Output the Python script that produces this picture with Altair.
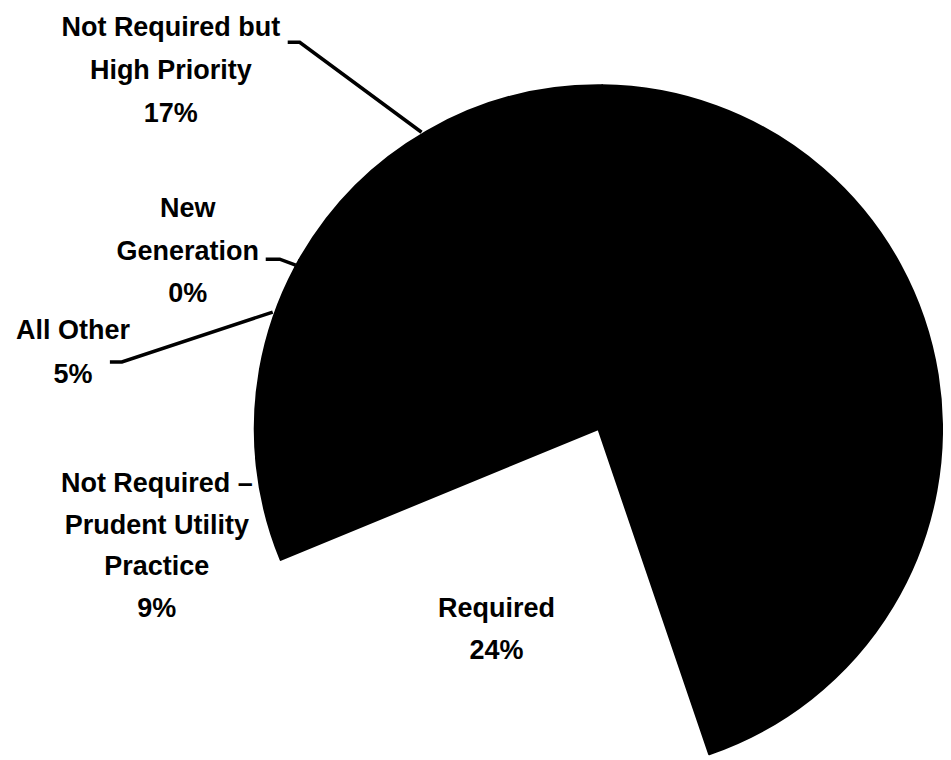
import math
import altair as alt
import pandas as pd

# ---- data ----
categories = [
    "Required",
    "Not Required – Prudent Utility Practice",
    "All Other",
    "New Generation",
    "Not Required but High Priority",
    "Unlabeled remainder",
]
shares = [24, 9, 5, 0.4, 17, 44.6]
fills = ["#ffffff", "#000000", "#000000", "#000000", "#000000", "#000000"]
strokes = ["transparent", "#000000", "#000000", "#000000", "#000000", "#000000"]

# label text lines (one block per labelled slice)
label_lines = [
    ["Required", "24%"],
    ["Not Required –", "Prudent Utility", "Practice", "9%"],
    ["All Other", "5%"],
    ["New", "Generation", "0%"],
    ["Not Required but", "High Priority", "17%"],
]

# ---- layout (annotation placement, pixels in chart space) ----
W, H = 935, 744
CX, CY, R = 591, 421, 344
START_DEG = 161.2
label_x = [489, 149, 65, 180, 163]
label_y0 = [609, 484, 331, 209, 28]
line_step = [42, 41.7, 44, 42.5, 43]

leaders = {
    "All Other": [(102, 354), (114, 354), (265, 304)],
    "New Generation": [(258, 251), (272, 251), (288, 257)],
    "Not Required but High Priority": [(280, 34), (292, 34), (414, 124)],
}

FONT = "Liberation Sans"
FSIZE = 27

pie_df = pd.DataFrame({
    "category": categories,
    "share": shares,
    "idx": list(range(len(categories))),
})

rows = []
for k, lines in enumerate(label_lines):
    for j, t in enumerate(lines):
        rows.append({"text": t, "x": label_x[k], "y": label_y0[k] + j * line_step[k]})
text_df = pd.DataFrame(rows)

lrows = []
for name, pts in leaders.items():
    for i, (px, py) in enumerate(pts):
        lrows.append({"line": name, "pt": i, "x": px, "y": py})
line_df = pd.DataFrame(lrows)

s = math.radians(START_DEG)
pie = alt.Chart(pie_df).mark_arc(outerRadius=R, innerRadius=0, strokeWidth=2, strokeJoin="round").encode(
    theta=alt.Theta("share:Q", stack=True, scale=alt.Scale(range=[s, s + 2 * math.pi])),
    order=alt.Order("idx:Q"),
    color=alt.Color("category:N", scale=alt.Scale(domain=categories, range=fills), legend=None),
    stroke=alt.Stroke("category:N", scale=alt.Scale(domain=categories, range=strokes), legend=None),
    x=alt.value(CX),
    y=alt.value(CY),
)

leader = alt.Chart(line_df).mark_line(color="black", strokeWidth=3.5).encode(
    x=alt.X("x:Q", scale=None, axis=None),
    y=alt.Y("y:Q", scale=None, axis=None),
    detail="line:N",
    order="pt:Q",
)

labels = alt.Chart(text_df).mark_text(
    font=FONT, fontSize=FSIZE, fontWeight="bold", color="black",
    align="center", baseline="alphabetic",
).encode(
    x=alt.X("x:Q", scale=None, axis=None),
    y=alt.Y("y:Q", scale=None, axis=None),
    text="text:N",
)

chart = alt.layer(pie, leader, labels).properties(
    width=W, height=H, padding=0, background="white"
).configure_view(stroke=None)

chart.save("out.html", embed_options={"renderer": "svg", "actions": False})
